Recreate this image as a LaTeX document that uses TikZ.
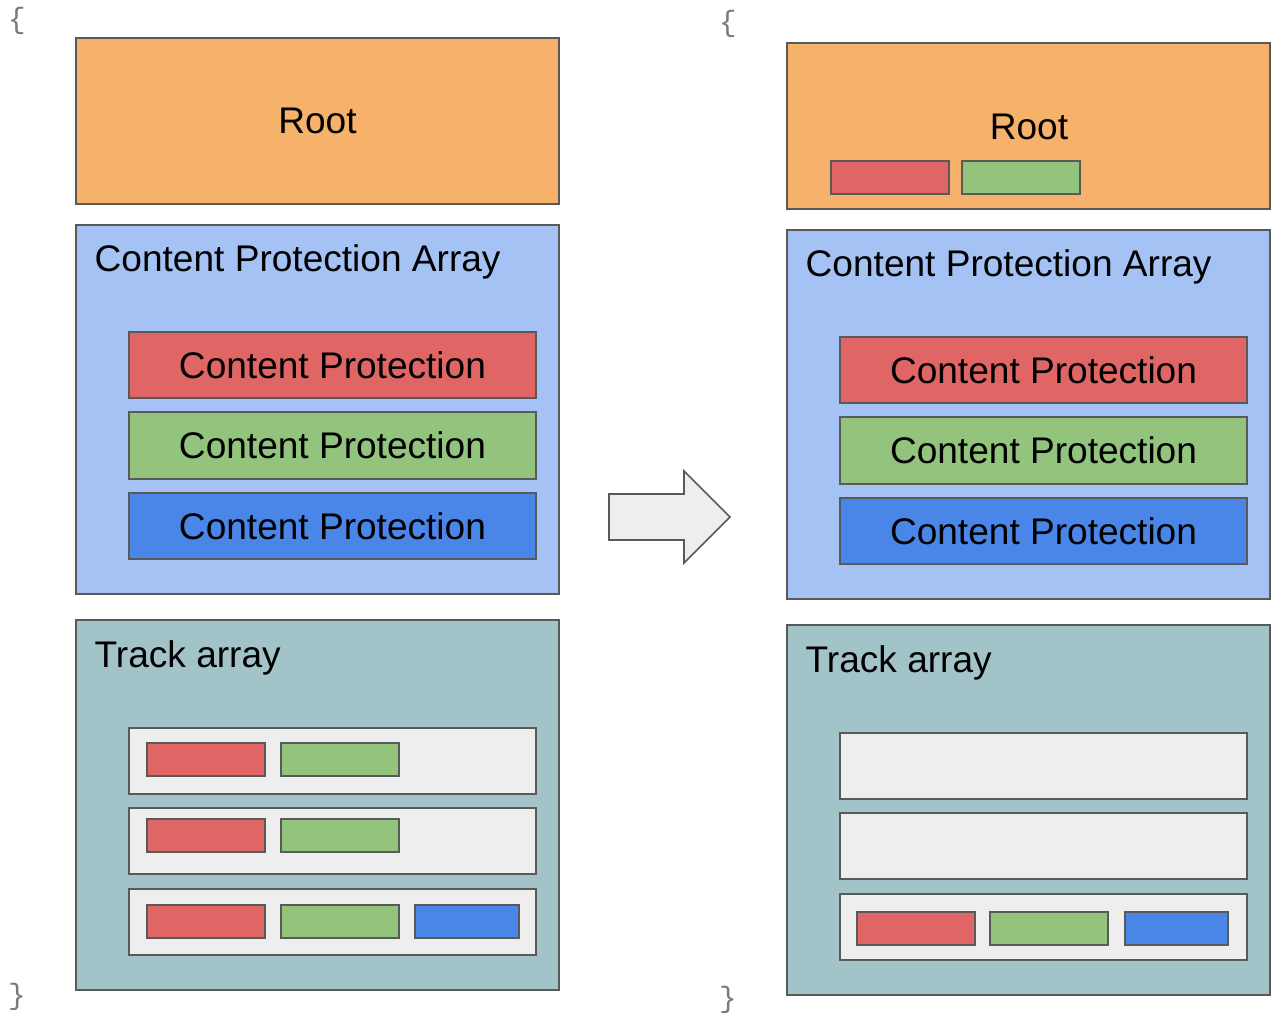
\documentclass[tikz,border=0pt]{standalone}
\usepackage{fontspec}
\setmainfont{Liberation Sans}
\newfontfamily\bracefont{Liberation Mono}
\usetikzlibrary{fit}
\definecolor{rootorange}{HTML}{F6B26B}
\definecolor{arrayblue}{HTML}{A4C2F4}
\definecolor{cpred}{HTML}{E06666}
\definecolor{cpgreen}{HTML}{93C47D}
\definecolor{cpblue}{HTML}{4A86E8}
\definecolor{tracteal}{HTML}{A2C4C9}
\definecolor{rowgray}{HTML}{EEEEEE}
\definecolor{edgegray}{HTML}{595959}
\begin{document}
\begin{tikzpicture}[x=0.75pt,y=-0.75pt,
  box/.style={draw=edgegray,line width=1.3pt,inner sep=0pt},
  txt/.style={font=\fontsize{27.8}{32}\selectfont},
  brace/.style={font=\bracefont\fontsize{22}{24}\selectfont,text=edgegray!80}]
\useasboundingbox (0,0) rectangle (1274,1016);

% Left: before
\node[brace] (lopen) at (17,21) {\{};
\node[brace] (lclose) at (17,997) {\}};
\node[box,fill=rootorange,fit={(76,38) (559,204)}] (lroot) {};
\node[txt] at (lroot) {Root};

\node[box,fill=arrayblue,fit={(76,225) (559,594)}] (lcparr) {};
\node[txt,anchor=west] (lcparrlbl) at (90,262) {Content Protection Array};
\node[box,fill=cpred,fit={(129,332) (536,398)}] (lcpa) {};
\node[box,fill=cpgreen,fit={(129,412) (536,479)}] (lcpb) {};
\node[box,fill=cpblue,fit={(129,493) (536,559)}] (lcpc) {};
\node[txt] at (lcpa) {Content Protection};
\node[txt] at (lcpb) {Content Protection};
\node[txt] at (lcpc) {Content Protection};

\node[box,fill=tracteal,fit={(76,620) (559,990)}] (ltrk) {};
\node[txt,anchor=west] (ltrklbl) at (90,658) {Track array};
\node[box,fill=rowgray,fit={(129,728) (536,794)}] (ltrka) {};
\node[box,fill=rowgray,fit={(129,808) (536,874)}] (ltrkb) {};
\node[box,fill=rowgray,fit={(129,889) (536,955)}] (ltrkc) {};
\node[box,fill=cpred,fit={(147,743) (265,776)}] (ltrkar) {};
\node[box,fill=cpgreen,fit={(281,743) (399,776)}] (ltrkag) {};
\node[box,fill=cpred,fit={(147,819) (265,852)}] (ltrkbr) {};
\node[box,fill=cpgreen,fit={(281,819) (399,852)}] (ltrkbg) {};
\node[box,fill=cpred,fit={(147,905) (265,938)}] (ltrkcr) {};
\node[box,fill=cpgreen,fit={(281,905) (399,938)}] (ltrkcg) {};
\node[box,fill=cpblue,fit={(415,905) (519,938)}] (ltrkcb) {};

% Arrow between the two
\draw[draw=edgegray,line width=1.3pt,fill=rowgray]
  (609,494) -- (684,494) -- (684,471) -- (730,517) -- (684,563) -- (684,540) -- (609,540) -- cycle;

% Right: after
\node[brace] (ropen) at (728,24) {\{};
\node[brace] (rclose) at (728,1000) {\}};
\node[box,fill=rootorange,fit={(787,43) (1270,209)}] (rroot) {};
\node[txt] (rrootlbl) at (1029,127) {Root};
\node[box,fill=cpred,fit={(831,161) (949,194)}] (rrootr) {};
\node[box,fill=cpgreen,fit={(962,161) (1080,194)}] (rrootg) {};

\node[box,fill=arrayblue,fit={(787,230) (1270,599)}] (rcparr) {};
\node[txt,anchor=west] (rcparrlbl) at (801,267) {Content Protection Array};
\node[box,fill=cpred,fit={(840,337) (1247,403)}] (rcpa) {};
\node[box,fill=cpgreen,fit={(840,417) (1247,484)}] (rcpb) {};
\node[box,fill=cpblue,fit={(840,498) (1247,564)}] (rcpc) {};
\node[txt] at (rcpa) {Content Protection};
\node[txt] at (rcpb) {Content Protection};
\node[txt] at (rcpc) {Content Protection};

\node[box,fill=tracteal,fit={(787,625) (1270,995)}] (rtrk) {};
\node[txt,anchor=west] (rtrklbl) at (801,663) {Track array};
\node[box,fill=rowgray,fit={(840,733) (1247,799)}] (rtrka) {};
\node[box,fill=rowgray,fit={(840,813) (1247,879)}] (rtrkb) {};
\node[box,fill=rowgray,fit={(840,894) (1247,960)}] (rtrkc) {};
\node[box,fill=cpred,fit={(857,912) (975,945)}] (rtrkcr) {};
\node[box,fill=cpgreen,fit={(990,912) (1108,945)}] (rtrkcg) {};
\node[box,fill=cpblue,fit={(1125,912) (1228,945)}] (rtrkcb) {};
\end{tikzpicture}
\end{document}
